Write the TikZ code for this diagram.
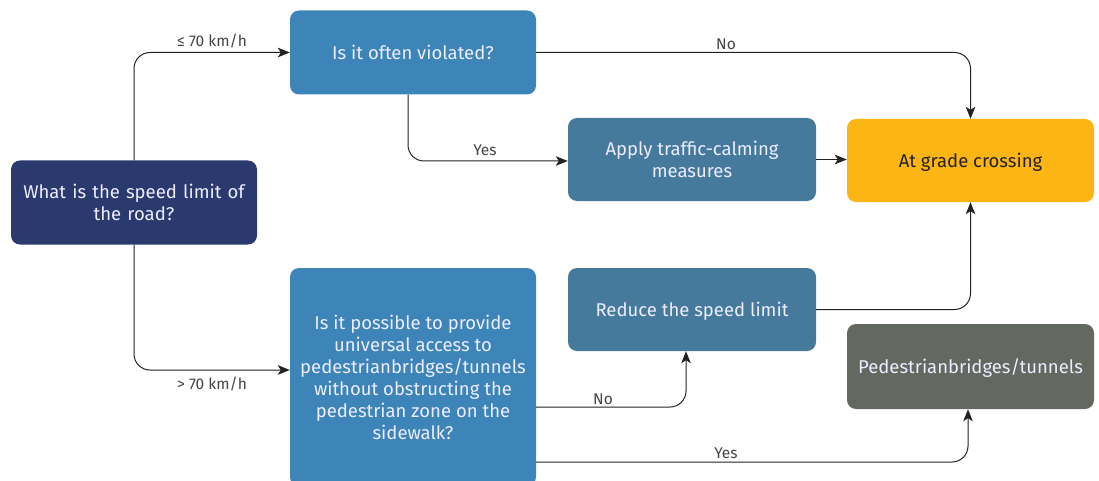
\documentclass[tikz,border=0pt]{standalone}
\usepackage{fontspec}
\setmainfont{Fira Sans}
\usetikzlibrary{arrows.meta}
\definecolor{navy}{HTML}{2B3A6E}
\definecolor{qblue}{HTML}{3D85B8}
\definecolor{ablue}{HTML}{457A9D}
\definecolor{amber}{HTML}{FDB515}
\definecolor{slate}{HTML}{636861}
\definecolor{ink}{HTML}{222222}
\definecolor{lbltxt}{HTML}{444444}
\tikzset{
  box/.style={rounded corners=9pt, minimum width=246pt, minimum height=84pt,
    align=center, font=\fontsize{18.5}{22}\selectfont, text=white!93!blue, inner sep=3pt},
  oneline/.style={text depth=0pt},
  conn/.style={draw=ink, line width=1pt, rounded corners=16pt,
    -{Stealth[length=12pt,width=9.5pt,inset=3pt]}},
  lbl/.style={font=\fontsize{15.5}{17}\selectfont, text=lbltxt, inner sep=1pt}
}
\begin{document}
\begin{tikzpicture}[x=1pt,y=-1pt]
\useasboundingbox (0,0) rectangle (1099,481);

% decision and outcome boxes
\node[box, fill=navy, text width=240pt] (speed) at (134,202.5) {What is the speed limit of\\the road?};
\node[box, oneline, fill=qblue] (viol) at (413,52.5) {Is it often violated?};
\node[box, fill=ablue, minimum width=248pt, minimum height=83pt] (calm) at (692,159.5) {Apply traffic-calming\\measures};
\node[box, oneline, fill=amber, text=ink, minimum width=247pt, minimum height=83pt] (grade) at (970.5,160.5) {At grade crossing};
\node[box, fill=qblue, minimum height=218pt] (poss) at (413,377) {Is it possible to provide\\universal access to\\pedestrianbridges/tunnels\\without obstructing the\\pedestrian zone on the\\sidewalk?};
\node[box, oneline, fill=ablue, minimum width=248pt, minimum height=83pt] (reduce) at (692,309.5) {Reduce the speed limit};
\node[box, oneline, fill=slate, minimum width=247pt, minimum height=85pt] (ped) at (970.5,366.5) {Pedestrianbridges/tunnels};

% connectors
\draw[conn] (speed.north) |- (viol.west);
\draw[conn] (speed.south) |- ([yshift=7pt]poss.west);
\draw[conn] ([xshift=-5pt]viol.south) |- ([yshift=-1.5pt]calm.west);
\draw[conn] (viol.east) -| (grade.north);
\draw[conn] (calm.east) -- ([yshift=1pt]grade.west);
\draw[conn] (reduce.east) -| (grade.south);
\draw[conn] ([yshift=-30pt]poss.east) -| ([xshift=-6pt]reduce.south);
\draw[conn] ([yshift=-85pt]poss.east) -| ([xshift=-2.5pt]ped.south);

% branch labels
\node[lbl] (l1) at (212,41) {≤ 70 km/h};
\node[lbl] (l2) at (212,384) {> 70 km/h};
\node[lbl] (l3) at (485,150) {Yes};
\node[lbl] (l4) at (726,44) {No};
\node[lbl] (l5) at (603,399) {No};
\node[lbl] (l6) at (726,453) {Yes};
\end{tikzpicture}
\end{document}
